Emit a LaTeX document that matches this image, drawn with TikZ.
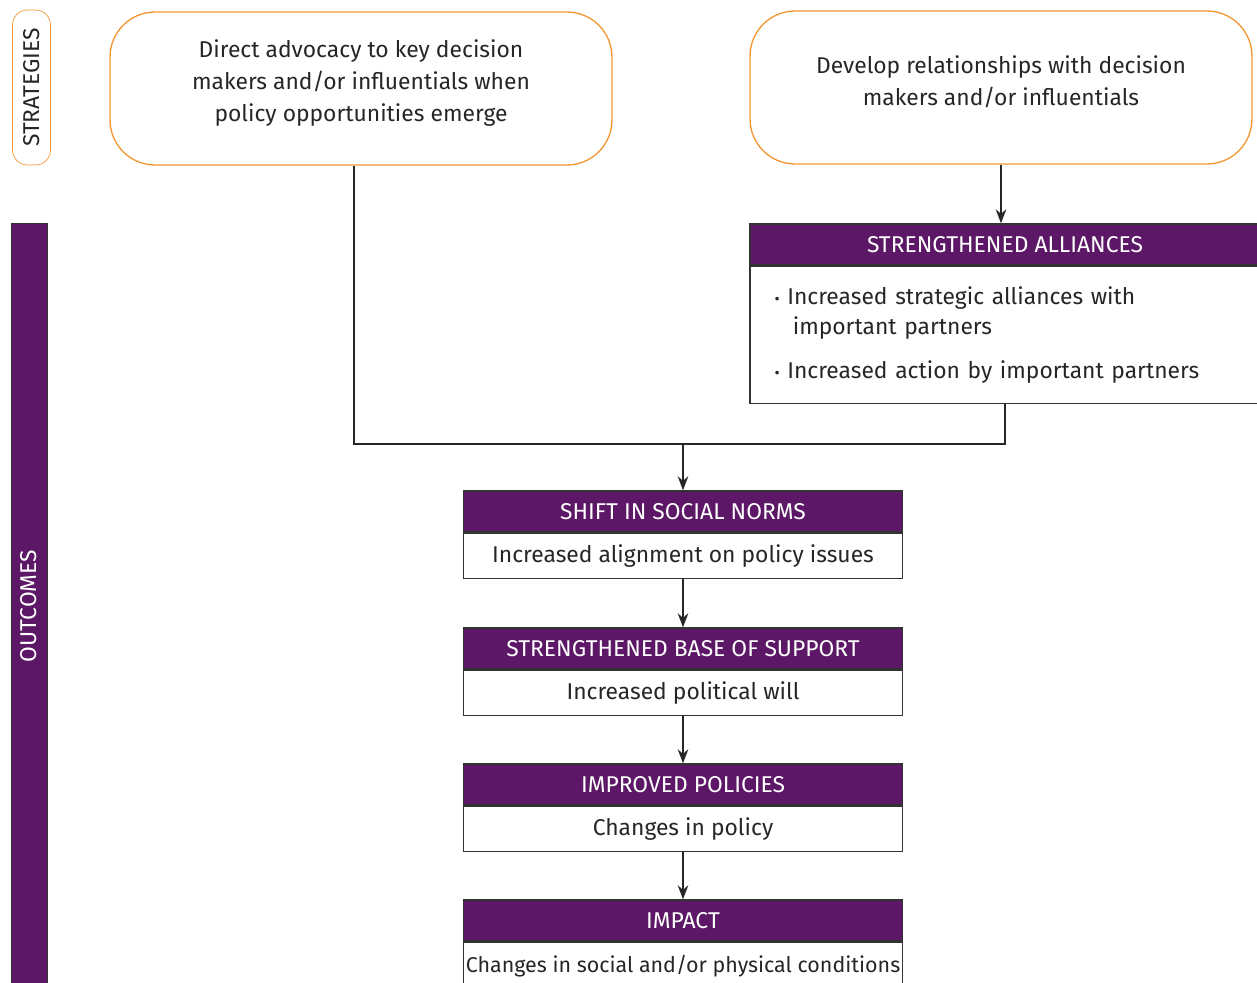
\documentclass[tikz,border=0pt]{standalone}
\usepackage{fontspec}
\setmainfont{Fira Sans}
\usetikzlibrary{positioning,arrows.meta}
\definecolor{outpurple}{RGB}{92,24,102}
\definecolor{stratorange}{RGB}{243,150,50}

\begin{document}
\begin{tikzpicture}[x=0.02cm,y=-0.02cm,
	txt/.style={font=\fontsize{13}{18}\selectfont,text=black!85},
	strat/.style={txt,draw=stratorange,line width=0.75pt,rounded corners=0.9cm,align=center,minimum width=10.04cm,minimum height=3.06cm},
	side/.style={txt,rotate=90,minimum height=0.76cm,inner sep=0pt},
	head/.style={txt,fill=outpurple,draw=black!80,line width=0.75pt,text=white,minimum width=8.78cm,minimum height=0.82cm,inner sep=0pt},
	body/.style={txt,draw=black!80,line width=0.75pt,minimum width=8.78cm,minimum height=0.9cm,inner sep=0pt,anchor=north},
	link/.style={-{Stealth[length=8pt,width=6pt]},black!85,line width=0.75pt}]
	\clip (0,0) rectangle (1257,983);
	\node[side,draw=stratorange,rounded corners=0.3cm,minimum width=3.1cm] (stratlabel) at (31.5,87.5) {STRATEGIES};
	\node[side,fill=outpurple,draw=black!80,text=white,minimum width=15.3cm,minimum height=0.72cm] (outlabel) at (29,606) {OUTCOMES};
	\node[strat] (s1) at (361,88.5) {Direct advocacy to key decision\\makers and/or influentials when\\policy opportunities emerge\\[-9pt]};
	\node[strat] (s2) at (1001,87.5) {Develop relationships with decision\\makers and/or influentials\\[-10pt]};
	\node[head,minimum width=10.2cm] (allh) at (1005,244.5) {STRENGTHENED ALLIANCES};
	\node[body,minimum width=10.2cm,minimum height=2.74cm,align=left,text width=9.22cm,inner xsep=0.49cm] (allb) at (allh.south) {{\small\textbullet}\ Increased strategic alliances with\\[-1pt]
		\hspace*{0.8em}important partners\\[7pt]
		{\small\textbullet}\ Increased action by important partners};
	\node[head] (shifth) at (683,511.5) {SHIFT IN SOCIAL NORMS};
	\node[body] (shiftb) at (shifth.south) {Increased alignment on policy issues};
	\node[head] (baseh) at (683,648.5) {STRENGTHENED BASE OF SUPPORT};
	\node[body] (baseb) at (baseh.south) {Increased political will};
	\node[head] (polh) at (683,784.5) {IMPROVED POLICIES};
	\node[body] (polb) at (polh.south) {Changes in policy};
	\node[head] (imph) at (683,920.5) {IMPACT};
	\node[body,minimum height=0.95cm,font=\fontsize{12.2}{18}\selectfont] (impb) at (imph.south) {Changes in social and/or physical conditions};
	\coordinate (join) at (683,444);
	\draw[link] (s2.south) -- (s2.south |- allh.north);
	\draw[black!85,line width=0.75pt] ([xshift=-0.14cm]s1.south) |- (join) -| (allb.south);
	\draw[link] (join) -- (shifth);
	\draw[link] (shiftb) -- (baseh);
	\draw[link] (baseb) -- (polh);
	\draw[link] (polb) -- (imph);
\end{tikzpicture}
\end{document}
